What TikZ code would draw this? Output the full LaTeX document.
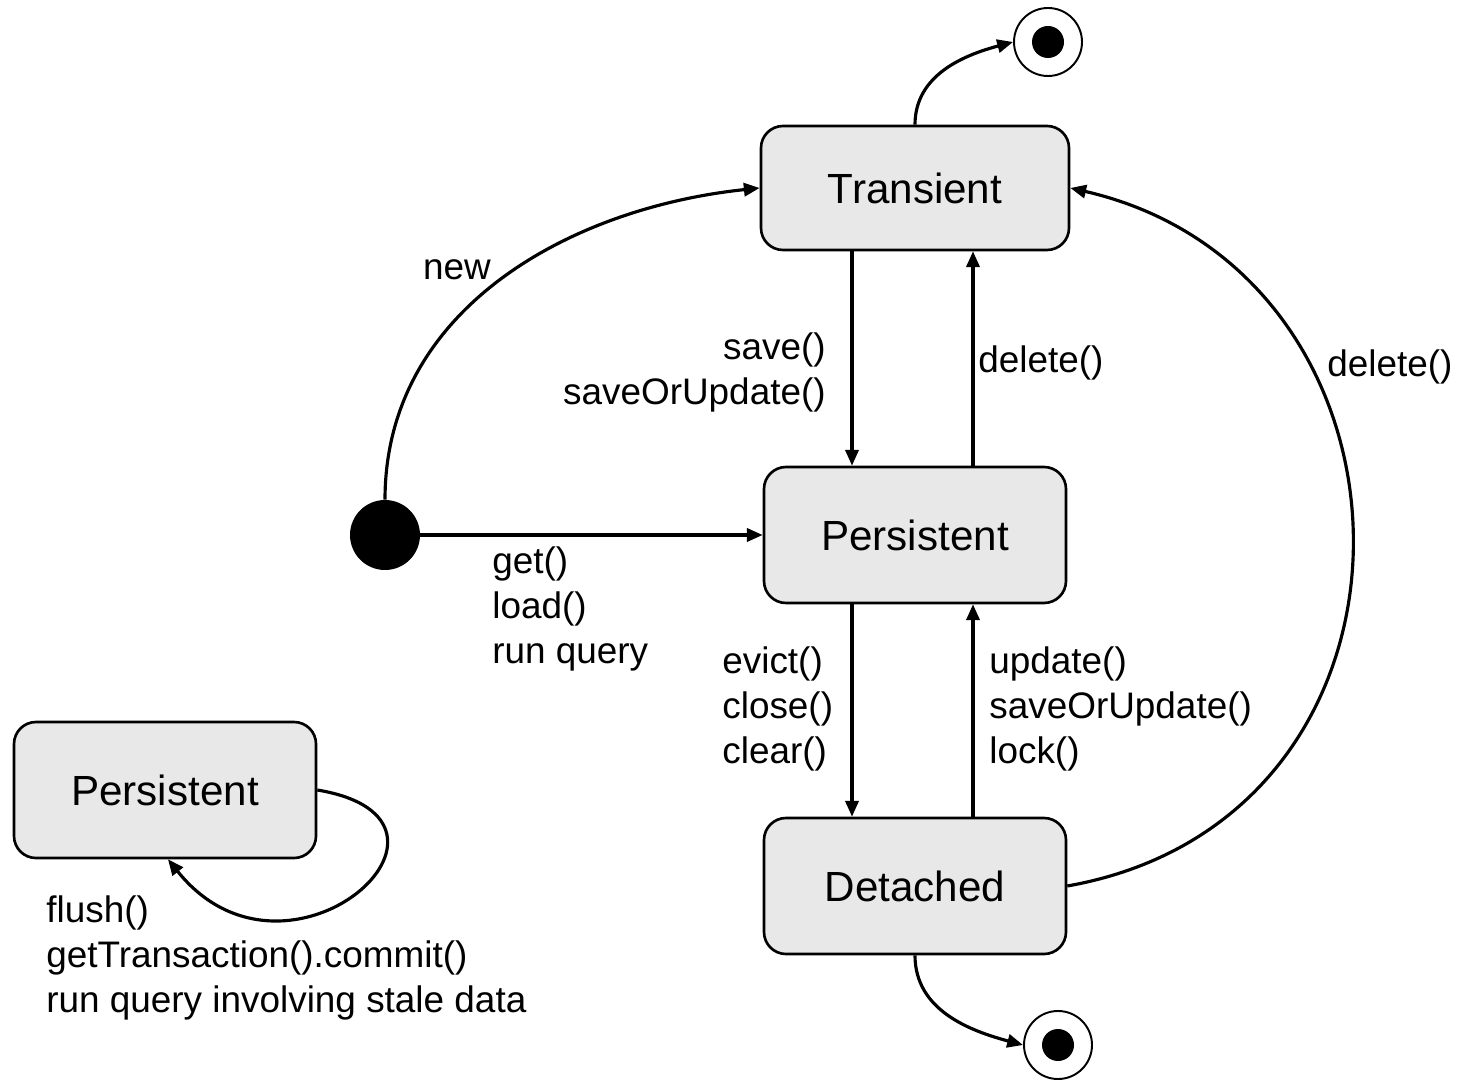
\documentclass[tikz,border=0pt]{standalone}
\usepackage{fontspec}
\setmainfont{Liberation Sans}
\usetikzlibrary{arrows.meta,calc}

\begin{document}
\begin{tikzpicture}[
  state/.style={draw, line width=1.5pt, fill=black!9, rounded corners=0.44cm,
    minimum height=2.72cm, minimum width=6.04cm,
    font=\fontsize{24}{29}\selectfont},
  trans/.style={line width=1.8pt, -{Triangle[length=9pt,width=7.5pt]}},
  lbl/.style={inner sep=0pt, align=left, font=\fontsize{21}{25.6}\selectfont}
]
\useasboundingbox (0,0) rectangle (29.18,21.58);

% states
\node[state, minimum width=6.16cm, minimum height=2.48cm] (trn) at (18.3,17.82) {Transient};
\node[state] (pers) at (18.3,10.88) {Persistent};
\node[state] (det) at (18.3,3.86) {Detached};
\node[state] (persB) at (3.30,5.78) {Persistent};

% initial and final states
\node[fill, circle, inner sep=0pt, minimum size=1.4cm] (init) at (7.70,10.88) {};
\foreach \n/\x/\y in {endT/20.96/20.74, endD/21.16/0.68} {
    \node[draw, circle, line width=1.1pt, inner sep=0pt, minimum size=1.36cm] (\n) at (\x,\y) {};
    \node[fill, circle, inner sep=0pt, minimum size=0.64cm] (\n dot) at (\n) {};
}

% transitions
\draw[trans] (init.north) to[out=90, in=186] (trn.west);
\draw[trans] (init.east) -- (pers.west);
\draw[trans] (trn.north) to[out=90, in=195] (endT.west);
\draw[trans] (det.south) to[out=-90, in=165] (endD.west);

\draw[trans] ([xshift=-1.26cm]trn.south) -- ([xshift=-1.26cm]pers.north);
\draw[trans] ([xshift=1.16cm]pers.north) -- ([xshift=1.16cm]trn.south);
\draw[trans] ([xshift=-1.26cm]pers.south) -- ([xshift=-1.26cm]det.north);
\draw[trans] ([xshift=1.16cm]det.north) -- ([xshift=1.16cm]pers.south);

\draw[trans] (det.east) .. controls +(7.68,1.36) and +(7.40,-1.70) .. (trn.east);
\draw[trans] (persB.east) .. controls +(3.6,-0.6) and +(2.4,-3.0) .. ([xshift=0.06cm]persB.south);

% labels
\node[lbl] (lNew) at (9.14,16.18) {new};
\node[lbl, anchor=east, align=right] (lSave) at (16.52,14.14) {save()\\saveOrUpdate()};
\node[lbl, anchor=west] (lDel) at (19.56,14.32) {delete()};
\node[lbl, anchor=west] (lDelB) at (26.54,14.24) {delete()};
\node[lbl, anchor=west] (lGet) at (9.84,9.40) {get()\\load()\\run query};
\node[lbl, anchor=west] (lEvict) at (14.44,7.40) {evict()\\close()\\clear()};
\node[lbl, anchor=west] (lUpd) at (19.78,7.40) {update()\\saveOrUpdate()\\lock()};
\node[lbl, anchor=west] (lFlush) at (0.92,2.42) {flush()\\getTransaction().commit()\\run query involving stale data};

\end{tikzpicture}
\end{document}
